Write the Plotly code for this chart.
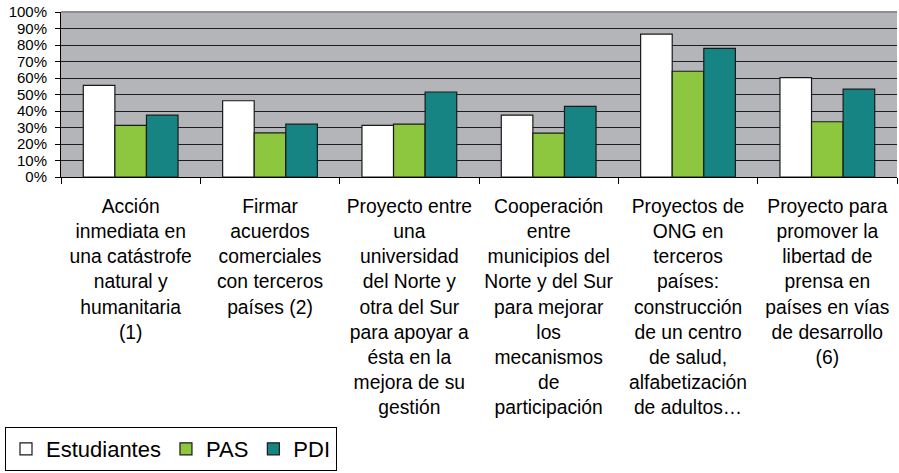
import plotly.graph_objects as go

categories = [
    "Acción<br>inmediata en<br>una catástrofe<br>natural y<br>humanitaria<br>(1)",
    "Firmar<br>acuerdos<br>comerciales<br>con terceros<br>países (2)",
    "Proyecto entre<br>una<br>universidad<br>del Norte y<br>otra del Sur<br>para apoyar a<br>ésta en la<br>mejora de su<br>gestión",
    "Cooperación<br>entre<br>municipios del<br>Norte y del Sur<br>para mejorar<br>los<br>mecanismos<br>de<br>participación",
    "Proyectos de<br>ONG en<br>terceros<br>países:<br>construcción<br>de un centro<br>de salud,<br>alfabetización<br>de adultos…",
    "Proyecto para<br>promover la<br>libertad de<br>prensa en<br>países en vías<br>de desarrollo<br>(6)",
]
estudiantes = [0.555, 0.462, 0.313, 0.375, 0.866, 0.602]
pas = [0.313, 0.268, 0.320, 0.266, 0.641, 0.335]
pdi = [0.375, 0.320, 0.515, 0.428, 0.779, 0.532]

y_ticks = [0, 0.1, 0.2, 0.3, 0.4, 0.5, 0.6, 0.7, 0.8, 0.9, 1.0]
y_labels = ["0%", "10%", "20%", "30%", "40%", "50%", "60%", "70%", "80%", "90%", "100%"]

series = [
    ("Estudiantes", estudiantes, "#FFFFFF"),
    ("PAS", pas, "#8DC63F"),
    ("PDI", pdi, "#168483"),
]

fig = go.Figure()
for name, vals, color in series:
    fig.add_trace(go.Bar(
        name=name, x=categories, y=vals,
        marker=dict(color=color, line=dict(color="#1a1a1a", width=1.2)),
    ))

fig.update_layout(
    width=899, height=473,
    margin=dict(l=61, r=2, t=12, b=296),
    paper_bgcolor="white",
    plot_bgcolor="#B4B5B9",
    barmode="group",
    bargap=0.32,
    bargroupgap=0,
    font=dict(family="Liberation Sans, Arial, sans-serif", color="black"),
    showlegend=True,
    legend=dict(
        orientation="h",
        xref="container", yref="container",
        x=5 / 899, xanchor="left",
        y=2 / 473, yanchor="bottom",
        bordercolor="black", borderwidth=1, bgcolor="white",
        font=dict(size=22, color="black"),
        itemwidth=30,
        tracegroupgap=0,
    ),
    xaxis=dict(
        showline=True, linecolor="black", linewidth=1,
        ticks="outside", ticklen=6, tickcolor="black",
        tickson="boundaries",
        tickfont=dict(size=19.3, color="black"),
        tickangle=0,
        ticklabelstandoff=12,
        showgrid=False,
    ),
    yaxis=dict(
        range=[0, 1.0],
        tickvals=y_ticks, ticktext=y_labels,
        showline=True, linecolor="black", linewidth=1,
        ticks="outside", ticklen=5, tickcolor="black",
        tickfont=dict(size=15, color="black"),
        ticklabelstandoff=5,
        showgrid=True, gridcolor="#1e1e1e", gridwidth=1.3,
        zeroline=False,
    ),
    shapes=[dict(type="line", xref="paper", yref="paper", x0=0, x1=1, y0=1, y1=1,
                 line=dict(color="#8E8E92", width=2), layer="above")],
)

fig.write_html("out.html", config={"displayModeBar": False},
               post_script="document.body.style.margin='0';")
